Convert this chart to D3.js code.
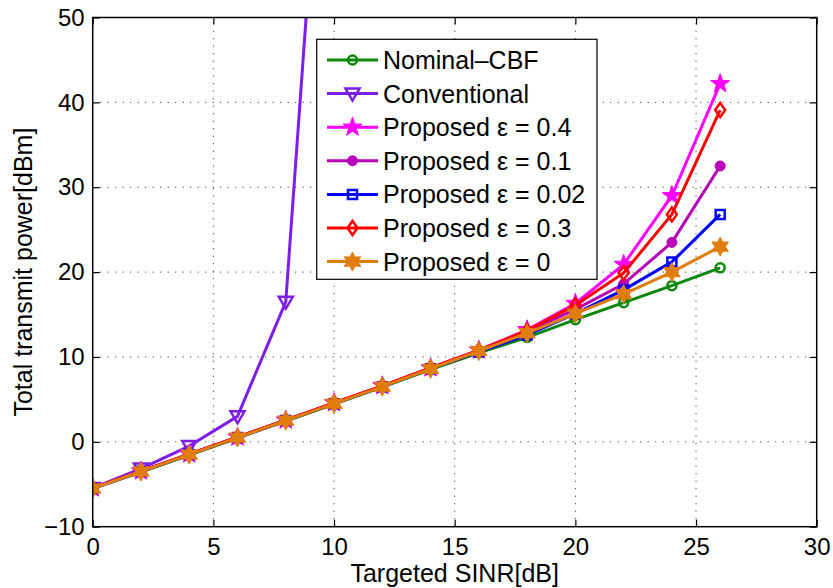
<!DOCTYPE html>
<html>
<head>
<meta charset="utf-8">
<script src="https://cdn.jsdelivr.net/npm/d3@7"></script>
<style>
  body { margin: 0; background: #fff; }
  svg { font-family: "Liberation Sans", Arial, sans-serif; }
</style>
</head>
<body>
<div id="vis-container"></div>
<script>
// chart values
const sinr = [0, 2, 4, 6, 8, 10, 12, 14, 16, 18, 20, 22, 24, 26];
const nominalCBF = [-5.5, -3.55, -1.55, 0.45, 2.45, 4.45, 6.45, 8.5, 10.5, 12.3, 14.4, 16.4, 18.4, 20.5];
const conventional = [-5.45, -3.15, -0.5, 3.0, 16.5, 96];
const conventionalX = [0, 2, 4, 6, 8, 10];
const prop04 = [-5.45, -3.45, -1.45, 0.55, 2.55, 4.6, 6.6, 8.7, 10.8, 13.2, 16.3, 20.9, 29.0, 42.2];
const prop01 = [-5.45, -3.45, -1.45, 0.55, 2.55, 4.55, 6.55, 8.65, 10.75, 13.0, 15.6, 18.6, 23.5, 32.5];
const prop002 = [-5.5, -3.5, -1.5, 0.5, 2.5, 4.5, 6.5, 8.6, 10.6, 12.6, 15.1, 17.9, 21.2, 26.8];
const prop03 = [-5.45, -3.45, -1.45, 0.55, 2.55, 4.6, 6.6, 8.7, 10.8, 13.1, 16.1, 19.9, 26.8, 39.1];
const prop0 = [-5.5, -3.5, -1.5, 0.5, 2.5, 4.5, 6.5, 8.6, 10.7, 12.8, 15.1, 17.4, 20.0, 23.0];

const seriesNames = ["Nominal\u2013CBF", "Conventional", "Proposed \u03b5 = 0.4", "Proposed \u03b5 = 0.1",
                     "Proposed \u03b5 = 0.02", "Proposed \u03b5 = 0.3", "Proposed \u03b5 = 0"];
const xTicks = [0, 5, 10, 15, 20, 25, 30];
const yTicks = [-10, 0, 10, 20, 30, 40, 50];

const width = 833;
const height = 588;
const margin = { top: 17.5, right: 16.3, bottom: 61.3, left: 92.7 };

const series = [
  { name: seriesNames[0], xs: sinr, ys: nominalCBF, color: "#0b870b", marker: "circle", fill: false },
  { name: seriesNames[1], xs: conventionalX, ys: conventional, color: "#7d1ee8", marker: "triangle", fill: false },
  { name: seriesNames[2], xs: sinr, ys: prop04, color: "#ff00ff", marker: "star", fill: true },
  { name: seriesNames[3], xs: sinr, ys: prop01, color: "#b800b8", marker: "dot", fill: true },
  { name: seriesNames[4], xs: sinr, ys: prop002, color: "#0000ff", marker: "square", fill: false },
  { name: seriesNames[5], xs: sinr, ys: prop03, color: "#ff0000", marker: "diamond", fill: false },
  { name: seriesNames[6], xs: sinr, ys: prop0, color: "#e07d0c", marker: "hexagram", fill: true }
];

const svg = d3.select("#vis-container")
  .append("svg")
  .attr("width", width)
  .attr("height", height);

const x = d3.scaleLinear().domain([0, 30]).range([margin.left, width - margin.right]);
const y = d3.scaleLinear().domain([-10, 50]).range([height - margin.bottom, margin.top]);

// star shaped paths
function starPath(n, R, r) {
  let p = [];
  for (let i = 0; i < 2 * n; i++) {
    const a = -Math.PI / 2 + i * Math.PI / n;
    const rr = i % 2 === 0 ? R : r;
    p.push([rr * Math.cos(a), rr * Math.sin(a)]);
  }
  return "M" + p.map(d => d[0].toFixed(2) + "," + d[1].toFixed(2)).join("L") + "Z";
}

function markerPath(type) {
  switch (type) {
    case "circle": return d3.symbol(d3.symbolCircle, Math.PI * 4.5 * 4.5)();
    case "dot": return d3.symbol(d3.symbolCircle, Math.PI * 5 * 5)();
    case "triangle": return "M-7,-5L7,-5L0,7Z";
    case "star": return starPath(5, 10, 4);
    case "square": return "M-4.5,-4.5L4.5,-4.5L4.5,4.5L-4.5,4.5Z";
    case "diamond": return "M0,-7L5,0L0,7L-5,0Z";
    case "hexagram": return starPath(6, 9.5, 5.2);
  }
}

// grid
const grid = svg.append("g").attr("stroke", "#222").attr("stroke-width", 1)
  .attr("stroke-dasharray", "1,6.5");
grid.selectAll(".gx")
  .data(xTicks.slice(1, -1))
  .join("line")
  .attr("x1", d => x(d)).attr("x2", d => x(d))
  .attr("y1", y(-10)).attr("y2", y(50));
grid.selectAll(".gy")
  .data(yTicks.slice(1, -1))
  .join("line")
  .attr("y1", d => y(d)).attr("y2", d => y(d))
  .attr("x1", x(0)).attr("x2", x(30));

// clip for the lines
svg.append("clipPath").attr("id", "plotclip")
  .append("rect")
  .attr("x", x(0)).attr("y", y(50))
  .attr("width", x(30) - x(0)).attr("height", y(-10) - y(50));

const line = d3.line().x(d => x(d[0])).y(d => y(d[1]));
const plot = svg.append("g").attr("clip-path", "url(#plotclip)");

series.forEach(s => {
  const pts = s.xs.map((v, i) => [v, s.ys[i]]);
  plot.append("path")
    .datum(pts)
    .attr("d", line)
    .attr("fill", "none")
    .attr("stroke", s.color)
    .attr("stroke-width", 3)
    .attr("stroke-linejoin", "round");
  plot.selectAll(null)
    .data(pts)
    .join("path")
    .attr("transform", d => `translate(${x(d[0])},${y(d[1])})`)
    .attr("d", markerPath(s.marker))
    .attr("fill", s.fill ? s.color : "none")
    .attr("stroke", s.color)
    .attr("stroke-width", s.fill ? 1 : 2.5);
});

// axes box
svg.append("rect")
  .attr("x", x(0)).attr("y", y(50))
  .attr("width", x(30) - x(0)).attr("height", y(-10) - y(50))
  .attr("fill", "none").attr("stroke", "#000").attr("stroke-width", 1.5);

svg.append("g")
  .attr("transform", `translate(0,${y(-10)})`)
  .call(d3.axisBottom(x).tickValues(xTicks).tickSize(-7).tickPadding(11).tickFormat(d3.format("d")))
  .call(g => g.select(".domain").remove())
  .call(g => g.selectAll("line").attr("stroke-width", 1.2))
  .call(g => g.selectAll("text").attr("font-size", "24px").attr("fill", "#000"));

svg.append("g")
  .attr("transform", `translate(0,${y(50)})`)
  .call(d3.axisTop(x).tickValues(xTicks).tickSize(-7).tickFormat(""))
  .call(g => g.select(".domain").remove())
  .call(g => g.selectAll("line").attr("stroke-width", 1.2));

svg.append("g")
  .attr("transform", `translate(${x(0)},0)`)
  .call(d3.axisLeft(y).tickValues(yTicks).tickSize(-7).tickPadding(8)
    .tickFormat(d => d < 0 ? "\u2212" + Math.abs(d) : d))
  .call(g => g.select(".domain").remove())
  .call(g => g.selectAll("line").attr("stroke-width", 1.2))
  .call(g => g.selectAll("text").attr("font-size", "24px").attr("fill", "#000"));

svg.append("g")
  .attr("transform", `translate(${x(30)},0)`)
  .call(d3.axisRight(y).tickValues(yTicks).tickSize(-7).tickFormat(""))
  .call(g => g.select(".domain").remove())
  .call(g => g.selectAll("line").attr("stroke-width", 1.2));

// axis labels
svg.append("text")
  .attr("x", (x(0) + x(30)) / 2)
  .attr("y", 582)
  .attr("text-anchor", "middle")
  .attr("font-size", "25px")
  .text("Targeted SINR[dB]");

svg.append("text")
  .attr("transform", `translate(32,${(y(-10) + y(50)) / 2}) rotate(-90)`)
  .attr("text-anchor", "middle")
  .attr("font-size", "25px")
  .text("Total transmit power[dBm]");

// legend
const lg = svg.append("g");
lg.append("rect")
  .attr("x", 316.7).attr("y", 39.3)
  .attr("width", 280.3).attr("height", 240)
  .attr("fill", "#fff").attr("stroke", "#000").attr("stroke-width", 1.2);

series.forEach((s, i) => {
  const ly = 60 + i * 33.6;
  lg.append("line")
    .attr("x1", 327).attr("x2", 378)
    .attr("y1", ly).attr("y2", ly)
    .attr("stroke", s.color).attr("stroke-width", 3);
  lg.append("path")
    .attr("transform", `translate(352.5,${ly})`)
    .attr("d", markerPath(s.marker))
    .attr("fill", s.fill ? s.color : "none")
    .attr("stroke", s.color)
    .attr("stroke-width", s.fill ? 1 : 2.5);
  lg.append("text")
    .attr("x", 383).attr("y", ly)
    .attr("dy", "0.36em")
    .attr("font-size", "25px")
    .text(s.name);
});
</script>
</body>
</html>
